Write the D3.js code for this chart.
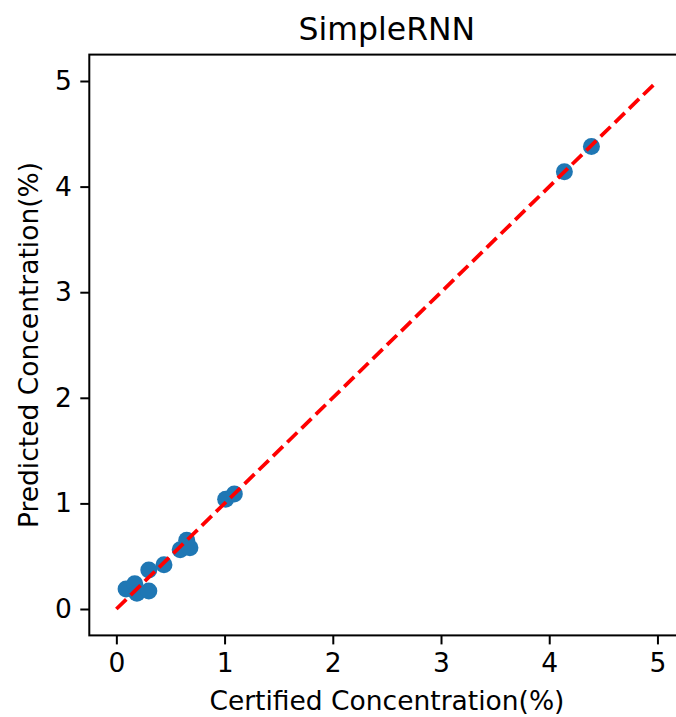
<!DOCTYPE html>
<html>
<head>
<meta charset="utf-8">
<script src="https://cdn.jsdelivr.net/npm/d3@7"></script>
<style>
  body { margin: 0; background: white; }
  text { font-family: "DejaVu Sans", sans-serif; }
</style>
</head>
<body>
<div class="chart"></div>
<script>
// values
let certified = [0.09, 0.17, 0.19, 0.30, 0.30, 0.44, 0.59, 0.65, 0.68, 1.01, 1.09, 4.14, 4.39];
let predicted = [0.19, 0.24, 0.15, 0.17, 0.37, 0.42, 0.56, 0.65, 0.58, 1.04, 1.09, 4.14, 4.38];
let idealLine = [0, 5];
let tickValues = [0, 1, 2, 3, 4, 5];
let axisLimits = [-0.25, 5.25];

let w = 676;
let h = 717;
let plotLeft = 89.3;
let plotRight = 684.5;   // frame goes past the picture edge
let plotTop = 54.6;
let plotBottom = 635.4;

let viz = d3.select(".chart")
            .append("svg")
            .attr("width", w)
            .attr("height", h)
            .style("display", "block")
;

let xScale = d3.scaleLinear().domain(axisLimits).range([plotLeft, plotRight]);
let yScale = d3.scaleLinear().domain(axisLimits).range([plotBottom, plotTop]);

// axes
let xAxis = d3.axisBottom(xScale).tickValues(tickValues).tickFormat(d3.format("d")).tickSize(9).tickPadding(8.5);
let yAxis = d3.axisLeft(yScale).tickValues(tickValues).tickFormat(d3.format("d")).tickSize(9).tickPadding(8.5);

let xAxisGroup = viz.append("g")
                    .attr("transform", "translate(0," + plotBottom + ")")
                    .call(xAxis)
;
let yAxisGroup = viz.append("g")
                    .attr("transform", "translate(" + plotLeft + ",0)")
                    .call(yAxis)
;
[xAxisGroup, yAxisGroup].forEach(g => {
  g.select(".domain").remove();
  g.selectAll(".tick line").attr("stroke", "black").attr("stroke-width", 2);
  g.selectAll(".tick text")
   .attr("fill", "black")
   .style("font-size", "26.5px")
   .style("font-family", "'DejaVu Sans', sans-serif");
});

// points
viz.append("g")
   .selectAll("circle")
   .data(certified.map((c, i) => ({x: c, y: predicted[i]})))
   .enter()
   .append("circle")
   .attr("cx", d => xScale(d.x))
   .attr("cy", d => yScale(d.y))
   .attr("r", 8.5)
   .attr("fill", "#1f77b4")
;

// y = x reference
viz.append("line")
   .attr("x1", xScale(idealLine[0]))
   .attr("y1", yScale(idealLine[0]))
   .attr("x2", xScale(idealLine[1]))
   .attr("y2", yScale(idealLine[1]))
   .attr("stroke", "red")
   .attr("stroke-width", 3.75)
   .attr("stroke-dasharray", "13.9,6")
;

// frame
viz.append("rect")
   .attr("x", plotLeft)
   .attr("y", plotTop)
   .attr("width", plotRight - plotLeft)
   .attr("height", plotBottom - plotTop)
   .attr("fill", "none")
   .attr("stroke", "black")
   .attr("stroke-width", 2)
;

viz.append("text")
   .text("SimpleRNN")
   .attr("x", (plotLeft + plotRight) / 2)
   .attr("y", 40)
   .attr("text-anchor", "middle")
   .attr("font-size", "31.5px")
   .attr("fill", "black")
;

viz.append("text")
   .text("Certified Concentration(%)")
   .attr("x", (plotLeft + plotRight) / 2)
   .attr("y", 710)
   .attr("text-anchor", "middle")
   .attr("font-size", "26.5px")
   .attr("fill", "black")
;

viz.append("text")
   .text("Predicted Concentration(%)")
   .attr("transform", "translate(38," + ((plotTop + plotBottom) / 2) + ") rotate(-90)")
   .attr("text-anchor", "middle")
   .attr("font-size", "26.5px")
   .attr("fill", "black")
;
</script>
</body>
</html>
